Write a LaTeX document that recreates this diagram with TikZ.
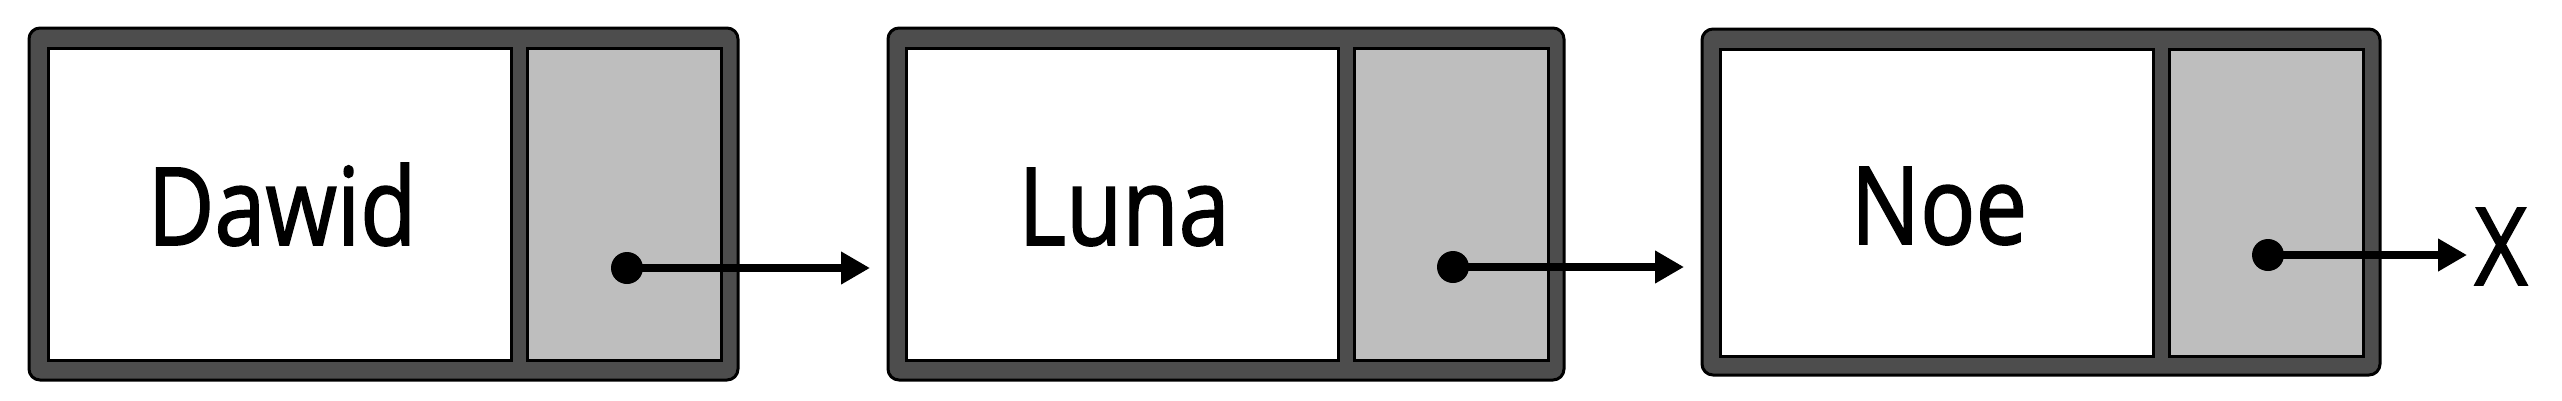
\documentclass[tikz,border=0pt]{standalone}
\usepackage{fontspec}
\setmainfont{Open Sans}
\newfontfamily\labelfont[FakeBold=1.6]{Open Sans}
\usetikzlibrary{arrows.meta}
\definecolor{frame}{HTML}{4D4D4D}
\definecolor{ptrgray}{HTML}{BEBEBE}
\begin{document}
\begin{tikzpicture}[x=1pt,y=-1pt,
  outerbox/.style={draw=black,line width=3pt,fill=frame,rounded corners=11pt,inner sep=0pt,outer sep=0pt},
  databox/.style={draw=black,line width=3pt,fill=white,inner sep=0pt,outer sep=0pt},
  ptrbox/.style={draw=black,line width=3pt,fill=ptrgray,inner sep=0pt,outer sep=0pt},
  dot/.style={circle,fill=black,inner sep=0pt,minimum size=32pt},
  link/.style={line width=8pt,-{Triangle[length=29pt,width=31pt]}},
  label/.style={font=\labelfont\fontsize{108}{110}\selectfont,anchor=base,inner sep=0pt,xscale=0.85}
]
\useasboundingbox (0,0) rectangle (2562,400);
% node 1
\node[outerbox,minimum width=709pt,minimum height=352pt] (o1) at (383.5,204) {};
\node[databox,minimum width=463pt,minimum height=312pt] (d1) at (279.5,204) {};
\node[ptrbox,minimum width=194pt,minimum height=312pt] (p1) at (624,204) {};
% node 2
\node[outerbox,minimum width=676pt,minimum height=352pt] (o2) at (1226,204) {};
\node[databox,minimum width=432pt,minimum height=312pt] (d2) at (1122,204) {};
\node[ptrbox,minimum width=194pt,minimum height=312pt] (p2) at (1451,204) {};
% node 3
\node[outerbox,minimum width=678pt,minimum height=346pt] (o3) at (2041,202) {};
\node[databox,minimum width=433pt,minimum height=307pt] (d3) at (1936.5,202.5) {};
\node[ptrbox,minimum width=194pt,minimum height=307pt] (p3) at (2266,202.5) {};
% labels
\node[label] (t1) at (282,245) {Dawid};
\node[label] (t2) at (1124,245) {Luna};
\node[label] (t3) at (1939,244) {Noe};
\node[label] (tx) at (2501,285) {X};
% pointers
\node[dot] (c1) at (627,268) {};
\node[dot] (c2) at (1453,267) {};
\node[dot] (c3) at (2268,255) {};
\coordinate (e1) at (870,268);
\coordinate (e2) at (1684,267);
\coordinate (e3) at (2467,255);
\draw[link] (c1.center) -- (e1);
\draw[link] (c2.center) -- (e2);
\draw[link] (c3.center) -- (e3);
\end{tikzpicture}
\end{document}
